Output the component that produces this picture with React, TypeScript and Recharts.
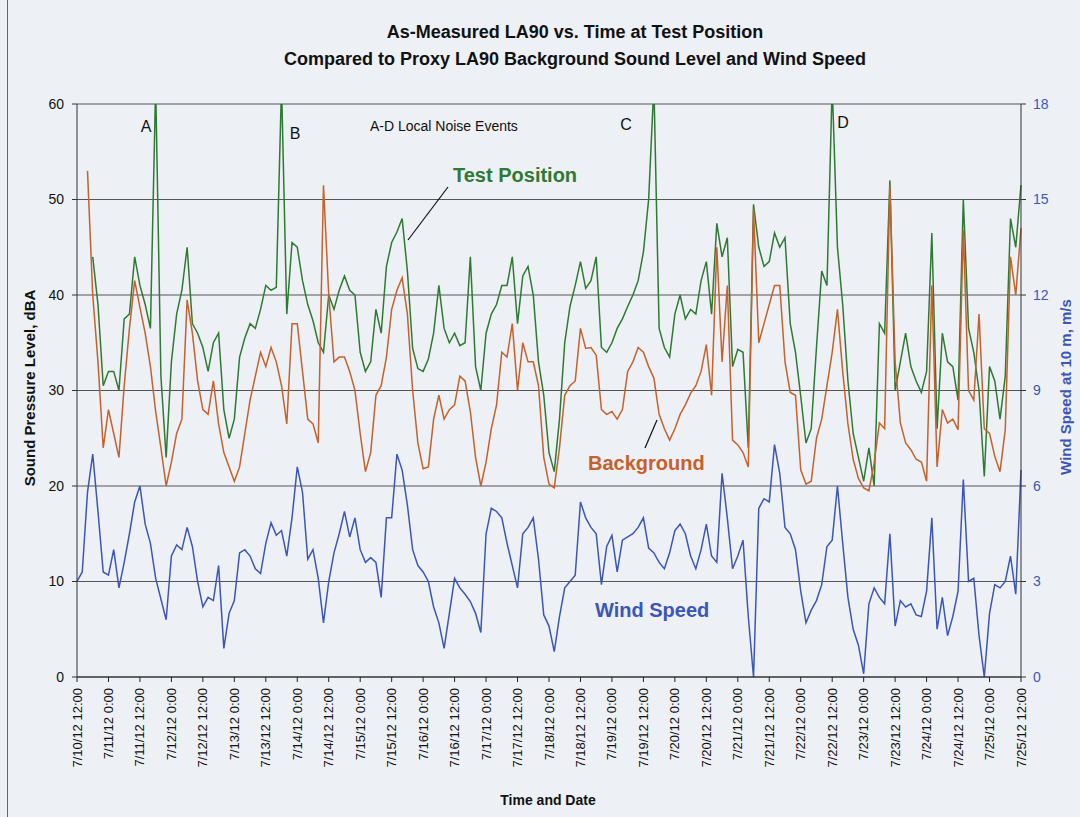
import { CartesianGrid, Line, LineChart, XAxis, YAxis } from "recharts";

// one reading every 2 hours, starting 7/10/12 12:00
const STEP_HOURS = 2;

const tickLabels = [
  "7/10/12 12:00", "7/11/12 0:00", "7/11/12 12:00", "7/12/12 0:00", "7/12/12 12:00",
  "7/13/12 0:00", "7/13/12 12:00", "7/14/12 0:00", "7/14/12 12:00", "7/15/12 0:00",
  "7/15/12 12:00", "7/16/12 0:00", "7/16/12 12:00", "7/17/12 0:00", "7/17/12 12:00",
  "7/18/12 0:00", "7/18/12 12:00", "7/19/12 0:00", "7/19/12 12:00", "7/20/12 0:00",
  "7/20/12 12:00", "7/21/12 0:00", "7/21/12 12:00", "7/22/12 0:00", "7/22/12 12:00",
  "7/23/12 0:00", "7/23/12 12:00", "7/24/12 0:00", "7/24/12 12:00", "7/25/12 0:00",
  "7/25/12 12:00"
];

const splTicks = [0, 10, 20, 30, 40, 50, 60];
const windTicks = [0, 3, 6, 9, 12, 15, 18];

// LA90 at test position, dBA
const testPosition: (number | null)[] = [
  null, null, null, 44, 39, 30.5, 32, 32, 30, 37.5,
  38, 44, 41, 39, 36.5, 62, 31.5, 23, 33, 38,
  40.5, 45, 37, 36, 34.5, 32, 35, 36, 28, 25,
  27, 33.5, 35.5, 37, 36.5, 38.5, 41, 40.5, 40.8, 62,
  38, 45.5, 45, 41.5, 39, 37.3, 35, 34, 40, 38.5,
  40.5, 42, 40.5, 40, 34, 32, 33, 38.5, 36, 43,
  45.5, 46.6, 48, 42.5, 34.4, 32.3, 32, 33.3, 36, 41,
  36.5, 35, 36, 34.7, 35, 44, 32.5, 30, 36, 38,
  39, 41, 41, 44, 37, 42, 43, 40, 33, 29.5,
  23.5, 21.5, 27, 35, 38.8, 41, 43.5, 40.7, 41.5, 44,
  34.5, 34, 35, 36.5, 37.5, 38.8, 40, 41.5, 44.5, 50,
  62, 36.5, 34.5, 33.5, 38, 40, 37.5, 38.5, 38, 41.5,
  43.5, 38, 47.5, 44, 46, 32.5, 34.3, 34, 24, 49.5,
  45, 43, 43.5, 46.5, 45, 46, 37, 34, 29.4, 24.5,
  26, 34.5, 42.5, 41, 62, 45, 39, 31, 25.5, 23,
  20.5, 24, 20, 37, 36, 52, 30, 33, 36, 32.5,
  31, 29.8, 32, 46.5, 26, 36, 33, 32.5, 29, 50,
  36.5, 34, 30, 21, 32.5, 31, 27, 31.5, 48, 45,
  51.5
];

// proxy LA90 background, dBA
const background: (number | null)[] = [
  null, null, 53, 40, 33, 24, 28, 25.5, 23, 30.5,
  36.5, 41.5, 38.7, 36, 32.5, 27.8, 24, 20, 22.5, 25.5,
  27, 39.5, 36, 31, 28, 27.5, 31, 26.5, 23.5, 22,
  20.5, 22, 25.5, 29, 31.5, 34, 32.5, 34.5, 33, 30.5,
  26.5, 37, 37, 32, 27, 26.5, 24.5, 51.5, 40, 33,
  33.5, 33.5, 32, 30, 25.5, 21.5, 23.5, 29.5, 30.5, 33.5,
  38.5, 40.5, 41.8, 38, 30, 24.5, 21.8, 22, 27, 29.5,
  27, 28, 28.5, 31.5, 31, 27.8, 23, 20, 22.5, 26,
  28.5, 34, 33.5, 37, 30, 35, 33, 33, 30.5, 23,
  20.2, 19.8, 24, 29.5, 30.5, 31, 36.5, 34.4, 34.5, 33.7,
  28, 27.5, 27.8, 27, 28, 32, 33, 34.5, 34, 32.5,
  31.3, 27.5, 26, 24.8, 26, 27.5, 28.5, 29.7, 30.5, 32,
  34.8, 29.5, 45, 33, 41, 24.8, 24.3, 23.5, 22, 49,
  35, 37, 39, 41, 41, 33, 29.8, 29.5, 21.7, 20.2,
  20.5, 25, 27, 30.5, 34, 38.5, 32, 26.5, 22.8, 20.8,
  19.8, 19.5, 22.4, 26.6, 26, 51.5, 33, 26.6, 24.5, 23.8,
  22.8, 22.5, 20.5, 41, 22, 28, 26.6, 27, 25.9, 46.8,
  30, 29, 38, 26, 25.5, 23.1, 21.5, 25.9, 44, 40,
  47
];

// wind speed at 10 m, m/s
const windSpeed: number[] = [
  3.0, 3.3, 5.8, 7.0, 5.2, 3.3, 3.2, 4.0, 2.8, 3.6,
  4.5, 5.5, 6.0, 4.8, 4.2, 3.1, 2.45, 1.8, 3.8, 4.15,
  4.0, 4.7, 4.1, 3.0, 2.2, 2.5, 2.4, 3.5, 0.9, 2.0,
  2.4, 3.9, 4.0, 3.8, 3.4, 3.25, 4.2, 4.85, 4.45, 4.6,
  3.8, 5.0, 6.6, 5.8, 3.7, 4.0, 3.1, 1.7, 3.0, 3.9,
  4.5, 5.2, 4.4, 5.0, 4.0, 3.6, 3.75, 3.6, 2.5, 5.0,
  5.0, 7.0, 6.5, 5.4, 4.0, 3.5, 3.3, 3.0, 2.2, 1.7,
  0.9, 2.0, 3.1, 2.8, 2.6, 2.37, 2.0, 1.4, 4.5, 5.3,
  5.2, 5.0, 4.2, 3.5, 2.8, 4.5, 4.7, 5.0, 3.7, 1.95,
  1.6, 0.8, 1.9, 2.8, 3.0, 3.2, 5.5, 5.0, 4.7, 4.5,
  2.9, 4.1, 4.45, 3.3, 4.3, 4.4, 4.5, 4.7, 5.0, 4.05,
  3.9, 3.6, 3.4, 3.9, 4.6, 4.8, 4.5, 3.8, 3.4, 4.0,
  4.8, 3.8, 3.6, 6.4, 5.0, 3.4, 3.8, 4.3, 1.9, 0.0,
  5.3, 5.6, 5.5, 7.3, 6.4, 4.7, 4.5, 4.0, 2.7, 1.7,
  2.1, 2.4, 2.9, 4.1, 4.3, 6.0, 4.2, 2.5, 1.5, 1.0,
  0.1, 2.3, 2.8, 2.5, 2.3, 4.5, 1.6, 2.4, 2.2, 2.3,
  1.95, 1.9, 2.7, 5.0, 1.5, 2.5, 1.3, 1.9, 2.7, 6.2,
  3.0, 3.1, 1.3, 0.0, 2.0, 2.9, 2.8, 3.0, 3.8, 2.6,
  6.5
];

const GREEN = "#2f7a33";
const ORANGE = "#c6612b";
const BLUE = "#3b56b8";
const FONT = "Arial, 'Liberation Sans', sans-serif";

const data = windSpeed.map((w, i) => ({
  hour: i * STEP_HOURS,
  test: testPosition[i],
  bg: background[i],
  wind: w
}));

const xTicks = tickLabels.map((_, i) => i * 12);

function DateTick(props: any) {
  const { x, y, payload } = props;
  const label = tickLabels[Math.round(payload.value / 12)];
  return (
    <text
      x={x}
      y={y}
      dx={-4}
      transform={`rotate(-90 ${x} ${y})`}
      textAnchor="end"
      dominantBaseline="central"
      fontSize={13}
      fontFamily={FONT}
      fill="#111"
    >
      {label}
    </text>
  );
}

export default function App() {
  return (
    <div
      style={{
        position: "absolute",
        left: 0,
        top: 0,
        width: 1080,
        height: 817,
        background: "#edf0f5",
        fontFamily: FONT
      }}
    >
      <div style={{ position: "absolute", left: 7, top: 0, width: 1, height: 817, background: "#666" }} />
      <LineChart
        width={1080}
        height={817}
        data={data}
        margin={{ top: 104, right: 19, left: 37, bottom: 40 }}
      >
        <CartesianGrid yAxisId="spl" vertical={false} stroke="#555" strokeWidth={1} />
        <XAxis
          dataKey="hour"
          type="number"
          domain={[0, 360]}
          ticks={xTicks}
          interval={0}
          height={100}
          tick={<DateTick />}
          tickSize={5}
          tickMargin={2}
          stroke="#222"
        />
        <YAxis
          yAxisId="spl"
          orientation="left"
          domain={[0, 60]}
          ticks={splTicks}
          allowDataOverflow
          width={40}
          tickSize={5}
          tickMargin={8}
          stroke="#333"
          tick={{ fill: "#111", fontSize: 14, fontFamily: FONT }}
        />
        <YAxis
          yAxisId="wind"
          orientation="right"
          domain={[0, 18]}
          ticks={windTicks}
          allowDataOverflow
          width={40}
          tickSize={5}
          tickMargin={7}
          stroke="#333"
          tick={{ fill: BLUE, fontSize: 14, fontFamily: FONT }}
        />
        <Line
          yAxisId="spl"
          dataKey="test"
          type="linear"
          stroke={GREEN}
          strokeWidth={1.5}
          dot={false}
          isAnimationActive={false}
        />
        <Line
          yAxisId="spl"
          dataKey="bg"
          type="linear"
          stroke={ORANGE}
          strokeWidth={1.5}
          dot={false}
          isAnimationActive={false}
        />
        <Line
          yAxisId="wind"
          dataKey="wind"
          type="linear"
          stroke={BLUE}
          strokeWidth={1.5}
          dot={false}
          isAnimationActive={false}
        />
      </LineChart>

      <svg
        width={1080}
        height={817}
        style={{ position: "absolute", left: 0, top: 0, pointerEvents: "none" }}
        fontFamily={FONT}
      >
        <text x={575} y={38} textAnchor="middle" fontSize={18} fontWeight="bold" fill="#111">
          As-Measured LA90 vs. Time at Test Position
        </text>
        <text x={575} y={65} textAnchor="middle" fontSize={18} fontWeight="bold" fill="#111">
          Compared to Proxy LA90 Background Sound Level and Wind Speed
        </text>

        <text x={146} y={132} textAnchor="middle" fontSize={16} fill="#111">A</text>
        <text x={295} y={139} textAnchor="middle" fontSize={16} fill="#111">B</text>
        <text x={370} y={131} fontSize={14} fill="#111">A-D Local Noise Events</text>
        <text x={626} y={130} textAnchor="middle" fontSize={16} fill="#111">C</text>
        <text x={843} y={128} textAnchor="middle" fontSize={16} fill="#111">D</text>

        <text x={453} y={182} fontSize={20} fontWeight="bold" fill={GREEN}>Test Position</text>
        <line x1={448} y1={187} x2={408} y2={240} stroke="#111" strokeWidth={1.2} />

        <text x={588} y={470} fontSize={20} fontWeight="bold" fill={ORANGE}>Background</text>
        <line x1={657} y1={420} x2={645} y2={448} stroke="#111" strokeWidth={1.2} />

        <text x={595} y={617} fontSize={20} fontWeight="bold" fill={BLUE}>Wind Speed</text>

        <text
          transform="translate(35 388) rotate(-90)"
          textAnchor="middle"
          fontSize={15}
          fontWeight="bold"
          fill="#111"
        >
          Sound Pressure Level, dBA
        </text>
        <text
          transform="translate(1071 387) rotate(-90)"
          textAnchor="middle"
          fontSize={15}
          fontWeight="bold"
          fill={BLUE}
        >
          Wind Speed at 10 m, m/s
        </text>
        <text x={548} y={805} textAnchor="middle" fontSize={14} fontWeight="bold" fill="#111">
          Time and Date
        </text>
      </svg>
    </div>
  );
}
